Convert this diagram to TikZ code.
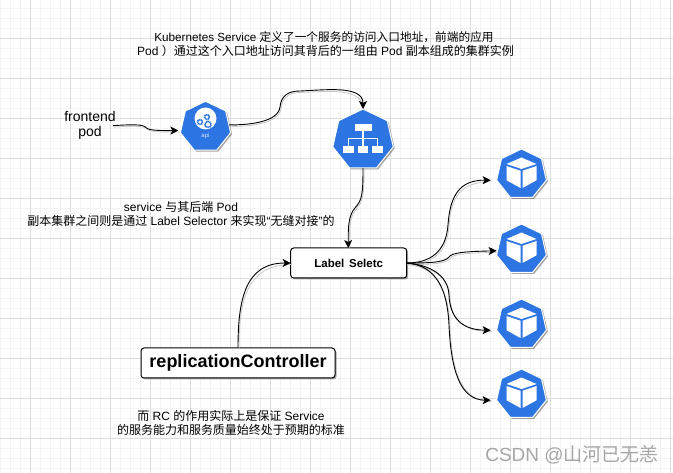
\documentclass[tikz,border=0pt]{standalone}
\usepackage{fontspec}
\setmainfont{Liberation Sans}
\newfontfamily\cjk{Noto Sans CJK SC}
\usetikzlibrary{shapes.geometric,shadows,arrows.meta}
\definecolor{kblue}{HTML}{2C75E2}
\definecolor{gridmajor}{HTML}{DDDDDD}
\definecolor{gridminor}{HTML}{F3F3F3}
\tikzset{
  hept/.style={regular polygon,regular polygon sides=7,draw=white,line width=1pt,fill=kblue,inner sep=0pt,outer sep=0pt,
    drop shadow={shadow xshift=1.5pt,shadow yshift=-1.5pt,fill=black,opacity=.35}},
  podhept/.style={hept,minimum size=51pt},
  card/.style={draw=black,line width=1pt,fill=white,rounded corners=3pt,inner sep=0pt,outer sep=0pt,
    drop shadow={shadow xshift=1.5pt,shadow yshift=-1.5pt,fill=black,opacity=.35}},
  txt/.style={align=center,inner sep=0pt,font=\fontsize{12}{14}\selectfont},
  link/.style={draw=black,line width=.9pt,-{Stealth[length=8pt,width=8pt,inset=2pt]},
    preaction={draw=black!22,line width=.8pt,-,transform canvas={xshift=1pt,yshift=-1.5pt}}},
  pics/cube/.style={code={
    \fill[white] (0,-17) -- (-15,-10.5) -- (0,-5.5) -- (15,-10.5) -- cycle;
    \fill[white] (-15,-8.5) -- (-1,-3.8) -- (-1,13.5) -- (-15,5.8) -- cycle;
    \fill[white] (15,-8.5) -- (1,-3.8) -- (1,13.5) -- (15,5.8) -- cycle;
  }},
  pics/network/.style={code={
    \fill[white] (-8.5,-15.7) rectangle (8.5,-9);
    \fill[white] (-19.7,6) rectangle (-8.7,13);
    \fill[white] (-5.3,6) rectangle (5.3,13);
    \fill[white] (9,6) rectangle (19.7,13);
    \draw[white,line width=1.2pt] (0,-9) -- (0,6) (-14.2,6) -- (-14.2,-1.7) -- (14.3,-1.7) -- (14.3,6);
  }},
  pics/apiicon/.style={code={
    \fill[white] (0,-8.5) circle (11);
    \foreach \gx/\gy/\gr in {-5.5/-5/2.6,2.5/-2.5/3.2,1.5/-10/2.6}{
      \draw[kblue,line width=1.5pt,dash pattern=on 1pt off .8pt] (\gx,\gy) circle (\gr);
      \draw[kblue,line width=.7pt] (\gx,\gy) circle (\gr-.5);
    }
    \node[text=white!85!kblue,inner sep=0pt,font=\fontsize{6}{6}\selectfont] (apilabel) at (0,9) {api};
  }}
}
\begin{document}
\begin{tikzpicture}[x=1pt,y=-1pt]
\useasboundingbox (0,0) rectangle (673,473);
\fill[white] (0,0) rectangle (673,473);
\foreach \x in {0,10,...,670} \draw[gridminor,line width=.8pt] (\x,0) -- (\x,473);
\foreach \y in {8,18,...,468} \draw[gridminor,line width=.8pt] (0,\y) -- (673,\y);
\foreach \x in {30,70,...,670} \draw[gridmajor,line width=.8pt] (\x,0) -- (\x,473);
\foreach \y in {38,78,...,438} \draw[gridmajor,line width=.8pt] (0,\y) -- (673,\y);

\node[hept,minimum size=51.5pt] (api) at (205.5,127) {};
\pic at (205.5,127) {apiicon};
\node[hept,minimum size=62pt] (svc) at (363,140) {};
\pic at (363,140) {network};
\node[podhept] (pod1) at (521.5,174.5) {};
\pic at (521.5,174.5) {cube};
\node[podhept] (pod2) at (521.5,249.5) {};
\pic at (521.5,249.5) {cube};
\node[podhept] (pod3) at (521.5,324.5) {};
\pic at (521.5,324.5) {cube};
\node[podhept] (pod4) at (521.5,394.5) {};
\pic at (521.5,394.5) {cube};

\node[card,minimum width=116pt,minimum height=30pt,font=\bfseries\fontsize{11.5}{13}\selectfont] (lab) at (348.7,263) {Label\hspace{1.5pt} Seletc};
\node[card,minimum width=194pt,minimum height=30pt,font=\bfseries\fontsize{18}{20}\selectfont] (rc) at (238,363) {replicationController};

\node[txt] (top) at (324,44) {{\fontsize{11.7}{14}\selectfont Kubernetes Service {\cjk 定义了一个服务的访问入口地址，前端的应用}}\\\hspace*{3pt}Pod {\cjk ）通过这个入口地址访问其背后的一组由} Pod {\cjk 副本组成的集群实例}};
\node[txt,font=\fontsize{14}{15.5}\selectfont] (fe) at (90,125.5) {frontend\\pod};
\node[txt] (sv) at (181,214) {service {\cjk 与其后端} Pod\\{\cjk 副本集群之间则是通过} Label Selector {\cjk 来实现}“{\cjk 无缝对接}”{\cjk 的}};
\node[txt] (rcnote) at (231,423) {{\cjk 而} RC {\cjk 的作用实际上是保证} Service\\{\cjk 的服务能力和服务质量始终处于预期的标准}};
\node[inner sep=0pt,text=black!35,font=\fontsize{19}{20}\selectfont] (mark) at (572,455) {CSDN @{\cjk 山河已无恙}};

\draw[link,shorten <=-3pt,shorten >=2.5pt] (fe.east) .. controls (130,124.5) and (143,124) .. (146,127.5) .. controls (148,130.5) and (160,130.7) .. (api.188);
\draw[link,shorten >=0pt] (api.5) .. controls (250,125) and (278,122) .. (280,107) .. controls (281,96) and (288,91) .. (300,91) .. controls (325,90) and (363,85) .. (svc.north);
\draw[link] (svc.south) .. controls (363,195) and (362,200) .. (355,208) .. controls (349,215) and (348,225) .. (lab.north -| 348.3,0);
\draw[link] (rc.north) .. controls (238,300) and (245,263) .. (lab.west);
\draw[link,shorten >=6pt] (lab.east) .. controls (430,263) and (446,252) .. (448,225) .. controls (450,195) and (460,180) .. (pod1.193);
\draw[link,shorten >=1pt] (lab.east) .. controls (425,263) and (445,263) .. (449,257) .. controls (452,252) and (470,251.5) .. (pod2.183);
\draw[link,shorten >=6pt] (lab.east) .. controls (430,265) and (448,275) .. (449,295) .. controls (450,318) and (462,330) .. (pod3.193);
\draw[link,shorten >=6pt] (lab.east) .. controls (430,265) and (447,280) .. (449,325) .. controls (451,370) and (460,400) .. (pod4.193);
\end{tikzpicture}
\end{document}
